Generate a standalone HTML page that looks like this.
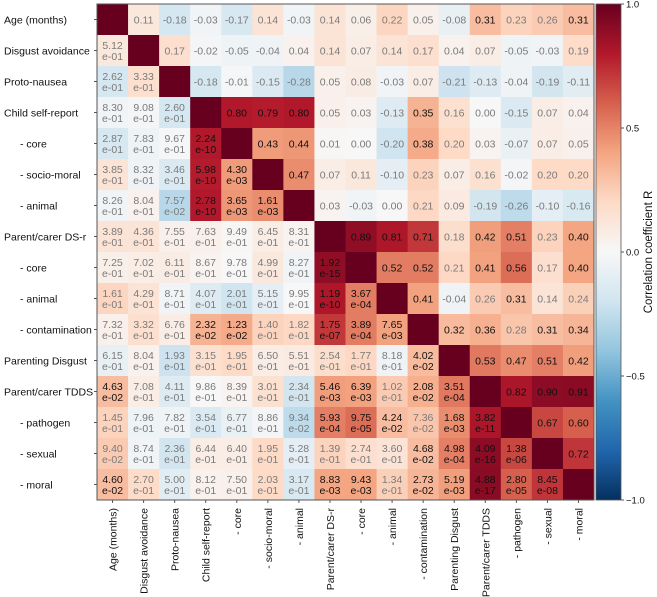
<!DOCTYPE html>
<html><head><meta charset="utf-8"><style>
html,body{margin:0;padding:0;background:#fff;}
svg{display:block;font-family:"Liberation Sans","DejaVu Sans",sans-serif;}
</style></head><body>
<svg id="chart" width="657" height="597" viewBox="0 0 657 597">
<defs>
<linearGradient id="cbar" x1="0" y1="1" x2="0" y2="0">
<stop offset="0" stop-color="#053061"/><stop offset="0.1" stop-color="#2166ac"/><stop offset="0.2" stop-color="#4393c3"/><stop offset="0.3" stop-color="#92c5de"/><stop offset="0.4" stop-color="#d1e5f0"/><stop offset="0.5" stop-color="#f7f7f7"/><stop offset="0.6" stop-color="#fddbc7"/><stop offset="0.7" stop-color="#f4a582"/><stop offset="0.8" stop-color="#d6604d"/><stop offset="0.9" stop-color="#b2182b"/><stop offset="1" stop-color="#67001f"/>
</linearGradient>
</defs>
</svg>
<script>
const labels = ["Age (months)","Disgust avoidance","Proto-nausea","Child self-report","- core","- socio-moral","- animal","Parent/carer DS-r","- core","- animal","- contamination","Parenting Disgust","Parent/carer TDDS","- pathogen","- sexual","- moral"];
const rUpper = [
[0.11,-0.18,-0.03,-0.17,0.14,-0.03,0.14,0.06,0.22,0.05,-0.08,0.31,0.23,0.26,0.31],
[0.17,-0.02,-0.05,-0.04,0.04,0.14,0.07,0.14,0.17,0.04,0.07,-0.05,-0.03,0.19],
[-0.18,-0.01,-0.15,-0.28,0.05,0.08,-0.03,0.07,-0.21,-0.13,-0.04,-0.19,-0.11],
[0.80,0.79,0.80,0.05,0.03,-0.13,0.35,0.16,0.00,-0.15,0.07,0.04],
[0.43,0.44,0.01,-0.00,-0.20,0.38,0.20,0.03,-0.07,0.07,0.05],
[0.47,0.07,0.11,-0.10,0.23,0.07,0.16,-0.02,0.20,0.20],
[0.03,-0.03,-0.00,0.21,0.09,-0.19,-0.26,-0.10,-0.16],
[0.89,0.81,0.71,0.18,0.42,0.51,0.23,0.40],
[0.52,0.52,0.21,0.41,0.56,0.17,0.40],
[0.41,-0.04,0.26,0.31,0.14,0.24],
[0.32,0.36,0.28,0.31,0.34],
[0.53,0.47,0.51,0.42],
[0.82,0.90,0.91],
[0.67,0.60],
[0.72]
];
const pLower = [
[],
[5.12e-01],
[2.62e-01,3.33e-01],
[8.30e-01,9.08e-01,2.60e-01],
[2.87e-01,7.83e-01,9.67e-01,2.24e-10],
[3.85e-01,8.32e-01,3.46e-01,5.98e-10,4.30e-03],
[8.26e-01,8.04e-01,7.57e-02,2.78e-10,3.65e-03,1.61e-03],
[3.89e-01,4.36e-01,7.55e-01,7.63e-01,9.49e-01,6.45e-01,8.31e-01],
[7.25e-01,7.02e-01,6.11e-01,8.67e-01,9.78e-01,4.99e-01,8.27e-01,1.92e-15],
[1.61e-01,4.29e-01,8.71e-01,4.07e-01,2.01e-01,5.15e-01,9.95e-01,1.19e-10,3.67e-04],
[7.32e-01,3.32e-01,6.76e-01,2.32e-02,1.23e-02,1.40e-01,1.82e-01,1.75e-07,3.89e-04,7.65e-03],
[6.15e-01,8.04e-01,1.93e-01,3.15e-01,1.95e-01,6.50e-01,5.51e-01,2.54e-01,1.77e-01,8.18e-01,4.02e-02],
[4.63e-02,7.08e-01,4.11e-01,9.86e-01,8.39e-01,3.01e-01,2.34e-01,5.46e-03,6.39e-03,1.02e-01,2.08e-02,3.51e-04],
[1.45e-01,7.96e-01,7.82e-01,3.54e-01,6.77e-01,8.86e-01,9.34e-02,5.93e-04,9.75e-05,4.24e-02,7.36e-02,1.68e-03,3.82e-11],
[9.40e-02,8.74e-01,2.36e-01,6.44e-01,6.40e-01,1.95e-01,5.28e-01,1.39e-01,2.74e-01,3.60e-01,4.68e-02,4.98e-04,4.09e-16,1.38e-06],
[4.60e-02,2.70e-01,5.00e-01,8.12e-01,7.50e-01,2.03e-01,3.17e-01,8.83e-03,9.43e-03,1.34e-01,2.73e-02,5.19e-03,4.88e-17,2.80e-05,8.45e-08]
];
const cbarTicks = [1.0,0.5,0.0,-0.5,-1.0];
const cbarTickLabels = ["1.0","0.5","0.0","\u22120.5","\u22121.0"];

const NS = "http://www.w3.org/2000/svg";
const svg = document.getElementById('chart');
const X0 = 97, Y0 = 4, X1 = 594, Y1 = 500;
const n = labels.length;
const cw = (X1 - X0) / n, ch = (Y1 - Y0) / n;
const xPos = i => X0 + i * cw;
const yPos = i => Y0 + i * ch;
const stops = [[-1,[5,48,97]],[-0.8,[33,102,172]],[-0.6,[67,147,195]],[-0.4,[146,197,222]],[-0.2,[209,229,240]],[0,[247,247,247]],[0.2,[253,219,199]],[0.4,[244,165,130]],[0.6,[214,96,77]],[0.8,[178,24,43]],[1,[103,0,31]]];
function color(v){
  v = Math.max(-1, Math.min(1, v));
  for (let k = 0; k < stops.length - 1; k++){
    const a = stops[k], b = stops[k+1];
    if (v <= b[0]) {
      const t = (v - a[0]) / (b[0] - a[0]);
      const c = a[1].map((x, j) => Math.round(x + (b[1][j] - x) * t));
      return `rgb(${c[0]},${c[1]},${c[2]})`;
    }
  }
  return "rgb(103,0,31)";
}
function el(tag, attrs, parent){
  const e = document.createElementNS(NS, tag);
  for (const k in attrs) e.setAttribute(k, attrs[k]);
  (parent || svg).appendChild(e);
  return e;
}
function rVal(i, j){ return rUpper[i][j - i - 1]; }
function pVal(i, j){ return i > j ? pLower[i][j] : pLower[j][i]; }
const g = el('g', {});


for (let i = 0; i < n; i++){
  for (let j = 0; j < n; j++){
    let v;
    if (i === j) v = 1; else if (i < j) v = rVal(i, j); else v = rVal(j, i);
    const rect = el('rect', {x: xPos(j), y: yPos(i), width: cw + 0.5, height: ch + 0.5, fill: color(v)}, g);
    
    
    if (i === j) continue;
    const sig = pVal(i, j) < 0.05;
    const fill = sig ? '#111' : '#7a7a7a';
    const cx = xPos(j) + cw / 2;
    if (i < j) {
      const t = el('text', {x: cx, y: yPos(i) + ch / 2 + 4, 'text-anchor': 'middle', 'font-size': '10.5', fill: fill}, g);
      t.textContent = v.toFixed(2);
      
      
    } else {
      const p = pVal(i, j);
      const s = p.toExponential(2);
      const parts = s.split('e');
      const exp = parseInt(parts[1], 10);
      const expStr = 'e' + (exp < 0 ? '-' : '+') + String(Math.abs(exp)).padStart(2, '0');
      const t1 = el('text', {x: cx, y: yPos(i) + ch / 2 - 1.5, 'text-anchor': 'middle', 'font-size': '10.5', fill: fill}, g);
      t1.textContent = parts[0];
      
      
      const t2 = el('text', {x: cx, y: yPos(i) + ch / 2 + 9.5, 'text-anchor': 'middle', 'font-size': '10.5', fill: fill}, g);
      t2.textContent = expStr;
      
      
    }
  }
}
const frame = el('rect', {x: X0, y: Y0, width: X1 - X0, height: Y1 - Y0, fill: 'none', stroke: '#555', 'stroke-width': 1});


for (let i = 0; i < n; i++){
  const sub = labels[i].startsWith('-');
  const yl = el('text', {x: sub ? 20 : 4, y: yPos(i) + ch / 2 + 4, 'font-size': '10.5', fill: '#111'});
  yl.textContent = labels[i];
  
  
  el('line', {x1: X0 - 3, x2: X0, y1: yPos(i) + ch / 2, y2: yPos(i) + ch / 2, stroke: '#555'});
  const cx = xPos(i) + cw / 2;
  el('line', {x1: cx, x2: cx, y1: Y1, y2: Y1 + 3, stroke: '#555'});
  const xl = el('text', {x: 0, y: 0, 'font-size': '10.5', fill: '#111', 'text-anchor': 'end', transform: `translate(${cx + 4},${Y1 + 8}) rotate(-90)`});
  xl.textContent = labels[i];
  
  
}
const CB0 = 596, CBW = 25;
const cb = el('rect', {x: CB0, y: Y0, width: CBW, height: Y1 - Y0, fill: 'url(#cbar)', stroke: '#555', 'stroke-width': 0.8});


const cbY = v => Y0 + (1 - v) / 2 * (Y1 - Y0);
cbarTicks.forEach((v, k) => {
  el('line', {x1: CB0 + CBW, x2: CB0 + CBW + 3, y1: cbY(v), y2: cbY(v), stroke: '#555'});
  const t = el('text', {x: CB0 + CBW + 5, y: cbY(v) + 3.5, 'font-size': '9.5', fill: '#111'});
  t.textContent = cbarTickLabels[k];
  
  
});
const ct = el('text', {x: 0, y: 0, 'font-size': '11.5', fill: '#111', 'text-anchor': 'middle', transform: `translate(652,${cbY(0)}) rotate(-90)`});
ct.textContent = 'Correlation coefficient R';


</script>
</body></html>
